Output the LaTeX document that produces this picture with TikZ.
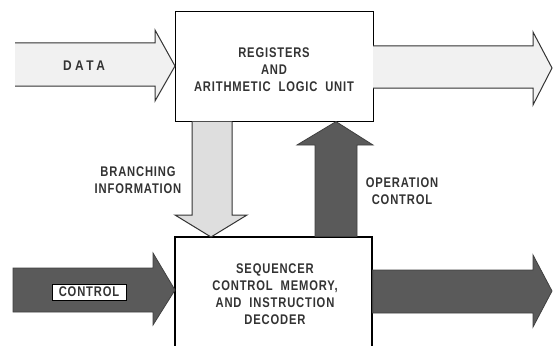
\documentclass[tikz,border=0pt]{standalone}
\usepackage{fontspec}
\setmainfont{Liberation Sans}[FakeStretch=0.8, LetterSpace=6, WordSpace=2]
\newfontfamily\widefont{Liberation Sans}[FakeStretch=0.85, LetterSpace=25]
\definecolor{lightfill}{HTML}{F1F1F1}
\definecolor{dotfill}{HTML}{DEDEDE}
\definecolor{darkfill}{HTML}{5A5A5A}
\tikzset{
  blockbox/.style={draw=black, line width=1.2pt, fill=white, inner sep=0pt},
  lbl/.style={font=\bfseries\fontsize{14}{17}\selectfont, text=black!80, align=center, inner sep=0pt},
  lightarrow/.style={fill=lightfill},
  dotarrow/.style={fill=dotfill, draw=black!80, line width=1pt, line join=miter},
  darkarrow/.style={fill=darkfill, draw=black!75, line width=0.8pt, line join=miter},
  outl/.style={draw=black!80, line width=1pt, line join=miter},
}
\begin{document}
\begin{tikzpicture}[x=1pt,y=-1pt]
\useasboundingbox (0,0) rectangle (553,345);
\fill[white] (0,0) rectangle (553,345);

% boxes
\node[blockbox, minimum width=198pt, minimum height=110pt, anchor=north west] (alu) at (175,11) {};
\node[lbl] (alutext) at (274,70) {REGISTERS\\AND\\ARITHMETIC LOGIC UNIT};

% DATA input arrow
\fill[lightarrow] (15,43) -- (155,43) -- (155,30) -- (175,66) -- (155,101) -- (155,86) -- (15,86) -- cycle;
\draw[outl] (15,43) -- (155,43) -- (155,30) -- (alu.west |- 0,66) -- (155,101) -- (155,86) -- (15,86);
\node[font=\widefont\bfseries\fontsize{14}{16}\selectfont, text=black!80] (data) at (84,66) {DATA};

% output arrow
\fill[lightarrow] (373,46) -- (533,46) -- (533,32) -- (552,68) -- (533,105) -- (533,88) -- (373,88) -- cycle;
\draw[outl] (373,46) -- (533,46) -- (533,32) -- (552,68) -- (533,105) -- (533,88) -- (373,88);

% sequencer box (extends beyond bottom)
\draw[line width=1.2pt, fill=white] (175,350) -- (175,237) -- (372,237) -- (372,350);
\coordinate (seqtop) at (273,237);
\node[lbl] (seqtext) at (275,294) {SEQUENCER\\CONTROL MEMORY,\\AND INSTRUCTION\\DECODER};

% branching information arrow
\draw[dotarrow] (192,121.6) -- (192,215) -- (175,215) -- (211,237) -- (247,215) -- (232,215) -- (232,121.6);
\node[lbl] (branch) at (138,180) {BRANCHING\\INFORMATION};

% operation control arrow
\draw[darkarrow] (315,236.4) -- (315,145) -- (297,145) -- (336,121.6) -- (373,145) -- (357,145) -- (357,236.4) -- cycle;
\node[lbl] (opctl) at (402,191) {OPERATION\\CONTROL};

% control input arrow
\draw[darkarrow] (13,268) -- (153,268) -- (153,253) -- (175,290) -- (153,325) -- (153,312) -- (13,312) -- cycle;
\node[draw=black, line width=0.8pt, fill=white, minimum width=74pt, minimum height=16pt, inner sep=0pt, font=\bfseries\fontsize{14}{14}\selectfont, text=black!80] (ctl) at (89,292) {CONTROL};

% output control arrow
\draw[darkarrow] (372.6,270) -- (533,270) -- (533,255) -- (552,291) -- (533,327) -- (533,313) -- (372.6,313) -- cycle;
\end{tikzpicture}
\end{document}
